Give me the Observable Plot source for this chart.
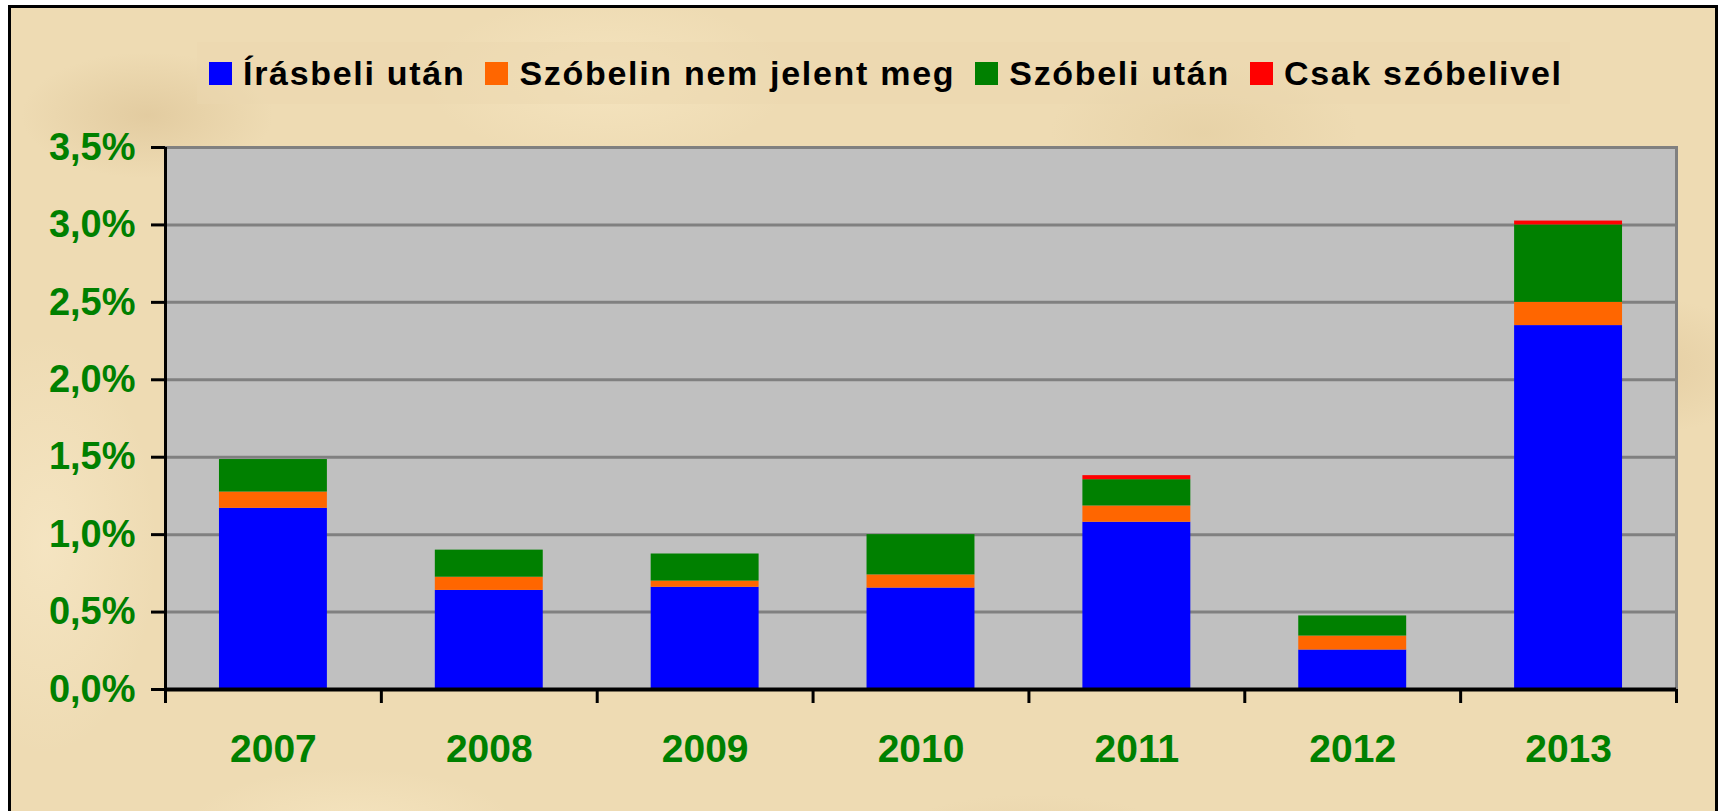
<!DOCTYPE html>
<html>
<head>
<meta charset="utf-8">
<script src="https://cdn.jsdelivr.net/npm/d3@7"></script>
<script src="https://cdn.jsdelivr.net/npm/@observablehq/plot@0.6"></script>
<style>
  html, body { margin: 0; padding: 0; background: #ffffff; }
  body { width: 1721px; height: 811px; overflow: hidden; position: relative; font-family: "Liberation Sans", Arial, sans-serif; }
  #frame {
    position: absolute; left: 8px; top: 5px; width: 1710px; height: 900px;
    box-sizing: border-box; border: 3px solid #000;
    background-color: #EEDBB3;
    background-image:
      radial-gradient(ellipse 180px 90px at 8% 12%, rgba(205,175,125,0.35), transparent 70%),
      radial-gradient(ellipse 260px 120px at 35% 8%, rgba(250,235,200,0.55), transparent 70%),
      radial-gradient(ellipse 220px 110px at 70% 14%, rgba(215,190,140,0.30), transparent 70%),
      radial-gradient(ellipse 200px 100px at 95% 40%, rgba(210,180,130,0.35), transparent 70%),
      radial-gradient(ellipse 240px 90px at 20% 92%, rgba(250,235,200,0.55), transparent 70%),
      radial-gradient(ellipse 240px 90px at 60% 95%, rgba(215,188,140,0.30), transparent 70%),
      radial-gradient(ellipse 160px 300px at 2% 60%, rgba(250,236,205,0.55), transparent 70%);
  }
  #legend {
    position: absolute; left: 197px; top: 42px; width: 1373px; height: 62px;
    background: rgba(235,215,175,0.45);
    display: flex; align-items: center; box-sizing: border-box; padding-left: 12px;
  }
  .item { display: flex; align-items: center; margin-right: 20px; }
  .sw { width: 23px; height: 23px; margin-right: 11px; flex: none; }
  .lab { font-size: 34px; font-weight: bold; letter-spacing: 1.7px; color: #000; line-height: 34px; white-space: nowrap; }
  #chart { position: absolute; left: 0; top: 120px; }
</style>
</head>
<body>
<div id="frame"></div>
<div id="legend"></div>
<div id="chart"></div>
<script>
// ---- data ----
const years = [2007, 2008, 2009, 2010, 2011, 2012, 2013];
const seriesNames = ["Írásbeli után", "Szóbelin nem jelent meg", "Szóbeli után", "Csak szóbelivel"];
const seriesColors = ["#0000FF", "#FF6600", "#008000", "#FF0000"];
const irasbeliUtan = [1.17, 0.64, 0.66, 0.655, 1.08, 0.255, 2.35];
const szobelinNemJelentMeg = [0.105, 0.085, 0.04, 0.085, 0.105, 0.09, 0.15];
const szobeliUtan = [0.21, 0.175, 0.175, 0.26, 0.17, 0.13, 0.50];
const csakSzobelivel = [0, 0, 0, 0, 0.026, 0, 0.025];
const yTicks = [0, 0.5, 1, 1.5, 2, 2.5, 3, 3.5];

const seriesValues = [irasbeliUtan, szobelinNemJelentMeg, szobeliUtan, csakSzobelivel];
const table = [];
years.forEach((yr, i) => {
  seriesNames.forEach((s, k) => {
    if (seriesValues[k][i] > 0) table.push({year: yr, series: s, value: seriesValues[k][i]});
  });
});
const boundaries = years.map(y => y - 0.5).concat([years[years.length - 1] + 0.5]);
const xDomain = [boundaries[0], boundaries[boundaries.length - 1]];

// ---- legend ----
const legend = document.getElementById("legend");
seriesNames.forEach((s, k) => {
  const it = document.createElement("div");
  it.className = "item";
  if (k === seriesNames.length - 1) it.style.marginRight = "0";
  const sw = document.createElement("div");
  sw.className = "sw";
  sw.style.background = seriesColors[k];
  const lab = document.createElement("span");
  lab.className = "lab";
  lab.textContent = s;
  it.appendChild(sw); it.appendChild(lab);
  legend.appendChild(it);
});

// ---- chart ----
const fmt = d => d.toFixed(1).replace(".", ",") + "%";
const chart = Plot.plot({
  width: 1721,
  height: 691,
  marginLeft: 165,
  marginRight: 45,
  marginTop: 27,
  marginBottom: 122,
  style: {fontFamily: "'Liberation Sans', Arial, sans-serif", background: "transparent", overflow: "visible"},
  x: {type: "linear", domain: xDomain, axis: null, label: null},
  y: {domain: [0, 3.5], axis: null, label: null},
  color: {domain: seriesNames, range: seriesColors},
  marks: [
    Plot.frame({fill: "#C0C0C0", stroke: "#808080", strokeWidth: 3}),
    Plot.ruleY(yTicks.filter(t => t > 0), {stroke: "#808080", strokeWidth: 3}),
    Plot.rectY(table, {
      x1: d => d.year - 0.25,
      x2: d => d.year + 0.25,
      y: "value",
      fill: "series",
      order: seriesNames
    }),
    Plot.ruleY([0], {stroke: "#000", strokeWidth: 4}),
    Plot.ruleX([xDomain[0]], {stroke: "#000", strokeWidth: 3}),
    Plot.axisY({
      ticks: yTicks, tickSize: 14, tickPadding: 16, tickFormat: fmt, label: null,
      stroke: "#000", strokeWidth: 3, fill: "#008000",
      fontSize: 38, fontWeight: "bold"
    }),
    Plot.axisX({
      ticks: boundaries, tickSize: 14, tickFormat: () => "", label: null,
      stroke: "#000", strokeWidth: 3
    }),
    Plot.axisX({
      ticks: years, tickSize: 0, tickPadding: 45, tickFormat: d => String(d), label: null,
      fill: "#008000", fontSize: 39, fontWeight: "bold"
    })
  ]
});
document.getElementById("chart").appendChild(chart);
</script>
</body>
</html>
